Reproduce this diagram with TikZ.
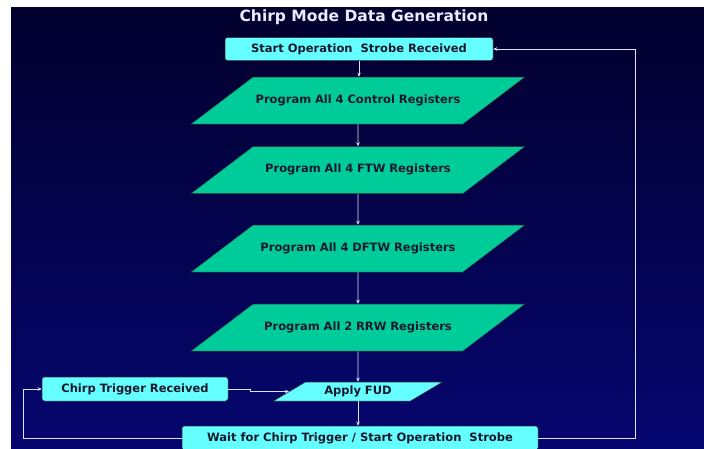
\documentclass[tikz,border=0pt]{standalone}
\usepackage{fontspec}
\setmainfont{DejaVu Sans}
\usetikzlibrary{arrows.meta,shapes.geometric}
\usepackage{xcolor}
\definecolor{bgtop}{RGB}{2,0,44}
\definecolor{bgbot}{RGB}{6,6,112}
\definecolor{boxcyan}{RGB}{102,255,255}
\definecolor{boxgreen}{RGB}{0,204,153}
\definecolor{txtdark}{RGB}{20,24,44}

\begin{document}
\begin{tikzpicture}[x=1pt, y=-1pt, >={Stealth[length=4pt,width=3.5pt]},
  txt/.style={font=\fontsize{11.5}{13}\selectfont\bfseries, text=txtdark},
  event/.style={txt, rectangle, rounded corners=2.5pt, draw=black!80, line width=0.5pt, fill=boxcyan, minimum height=23pt, inner sep=0pt},
  % parallelogram: body width set by text width, slant by the angles
  prog/.style={txt, trapezium, trapezium left angle=37.2, trapezium right angle=142.8,
    draw=black!80, line width=0.5pt, fill=boxgreen, text width=210pt, align=center,
    text height=8pt, text depth=2.5pt, inner xsep=0pt, inner ysep=18.25pt},
  fudbox/.style={prog, fill=boxcyan, trapezium left angle=30.7, trapezium right angle=149.3,
    text width=105pt, inner ysep=4.25pt},
  edge/.style={->, line width=0.8pt, draw=white!88!blue}
]
\useasboundingbox (0,0) rectangle (704,448);
\fill[white] (0,0) rectangle (704,448);
\shade[top color=bgtop, bottom color=bgbot] (11,7) rectangle (704,448);

\node[font=\fontsize{15.5}{17}\selectfont\bfseries, text=white!92!blue] (title) at (364,17) {Chirp Mode Data Generation};

\node[event, minimum width=268pt] (start) at (359,49) {Start Operation\ \ Strobe Received};
\node[prog] (ctrl) at (358,100.5) {Program All 4 Control Registers};
\node[prog] (ftw)  at (358,170)   {Program All 4 FTW Registers};
\node[prog] (dftw) at (358,248.5) {Program All 4 DFTW Registers};
\node[prog] (rrw)  at (358,327.5) {Program All 2 RRW Registers};
\node[fudbox] (fud) at (358,391.5) {Apply FUD};
\node[event, minimum width=186pt, minimum height=24pt] (chirp) at (135,389) {Chirp Trigger Received};
\node[event, minimum width=356pt, minimum height=24pt] (wait) at (360,438) {Wait for Chirp Trigger / Start Operation\ \ Strobe};

% return paths
\coordinate (lft) at (23,0);
\coordinate (rgt) at (635,0);

\draw[edge] (start.south) -- (start.south |- ctrl.north);
\draw[edge] (ctrl) -- (ftw);
\draw[edge] (ftw) -- (dftw);
\draw[edge] (dftw) -- (rrw);
\draw[edge] (rrw) -- (fud);
\draw[edge] (fud.south) -- (fud.south |- wait.north);
\draw[edge] (chirp.east) -- ++(22,0) |- (fud.west);
\draw[edge] (wait.west) -- (wait.west -| lft) |- (chirp.west);
\draw[edge] (wait.east) -- (wait.east -| rgt) |- (start.east);
\end{tikzpicture}
\end{document}
